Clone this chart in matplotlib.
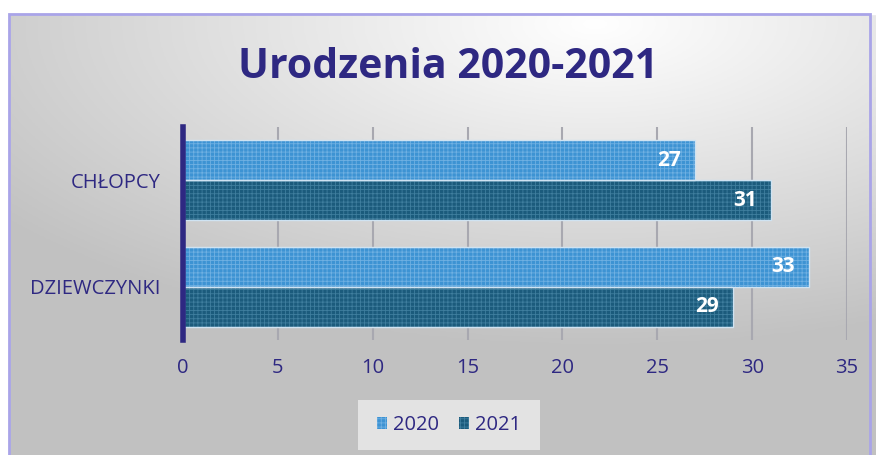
import numpy as np
import matplotlib.pyplot as plt
from matplotlib.patches import Rectangle, Patch

categories = ["DZIEWCZYNKI", "CHŁOPCY"]
years = ["2020", "2021"]
values_2020 = [33, 27]
values_2021 = [29, 31]
xticks = [0, 5, 10, 15, 20, 25, 30, 35]

navy = "#2e2882"
c2020 = "#3d93d3"
c2021 = "#1b5b7c"

plt.rcParams['font.family'] = ['Open Sans', 'DejaVu Sans']
plt.rcParams['hatch.linewidth'] = 0.6

W, H = 876, 455
fig = plt.figure(figsize=(W / 100, H / 100), dpi=100)

# background gradient
bg = fig.add_axes([0, 0, 1, 1], zorder=-2)
xx, yy = np.meshgrid(np.linspace(0, 1, 300), np.linspace(0, 1, 160))
d = np.sqrt(((xx - 0.68) * 1.0) ** 2 + ((yy - 0.95) * 1.2) ** 2)
g = 1.0 - 0.24 * np.clip(d / 0.85, 0, 1)
img = np.dstack([g, g, g])
bg.imshow(img, extent=[0, 1, 0, 1], origin="lower", aspect="auto")
bg.set_xlim(0, 1)
bg.set_ylim(0, 1)
bg.axis("off")
# white margin outside the border
bg.add_patch(Rectangle((0, 1 - 14 / H), 1, 1, color="white", zorder=3))
bg.add_patch(Rectangle((0, 0), 9 / W, 1, color="white", zorder=3))
bg.add_patch(Rectangle((9 / W, -0.05), 861 / W, 1 - 14 / H + 0.05, fill=False,
                       edgecolor="#a9a4e8", linewidth=2, zorder=4))
# legend box
bg.add_patch(Rectangle((358 / W, 1 - 450 / H), 182 / W, 50 / H,
                       facecolor="#e3e3e3", edgecolor="none", zorder=1))

ax = fig.add_axes([183 / W, 1 - 340 / H, 664 / W, 213 / H])
ax.patch.set_alpha(0)

y = np.arange(len(categories))
h = 0.375
b1 = ax.barh(y + h / 2, values_2020, height=h, color=c2020, edgecolor="#6fb0e2",
             hatch="++++", linewidth=0.0, zorder=3)
b2 = ax.barh(y - h / 2, values_2021, height=h, color=c2021, edgecolor="#3f7e9e",
             hatch="++++", linewidth=0.0, zorder=3)
for bars in (b1, b2):
    for r in bars:
        ax.add_patch(Rectangle((r.get_x(), r.get_y()), r.get_width(), r.get_height(),
                               fill=False, edgecolor="#cfe3f2", linewidth=1.0, zorder=4))
        ax.annotate(f"{r.get_width():g}", (r.get_width(), r.get_y() + r.get_height() / 2),
                    xytext=(-10, 0), textcoords="offset points", ha="right", va="center",
                    color="white", fontsize=15, fontweight="bold", zorder=5)

ax.set_xlim(0, 35)
ax.set_ylim(-0.5, 1.5)
ax.set_xticks(xticks)
ax.set_yticks(y)
ax.set_yticklabels(categories)
ax.tick_params(axis="both", length=0, colors=navy, labelsize=14.5)
ax.tick_params(axis="x", pad=13)
ax.tick_params(axis="y", pad=16)
ax.grid(axis="x", color="#a8a8b0", linewidth=1.5, zorder=0)
for s in ("top", "right", "bottom"):
    ax.spines[s].set_visible(False)
ax.spines["left"].set_color(navy)
ax.spines["left"].set_linewidth(4)
ax.spines["left"].set_zorder(6)

fig.text(448 / W, 1 - 67 / H, "Urodzenia 2020-2021", ha="center", va="center",
         fontsize=29.5, fontweight="bold", color=navy)

handles = [Patch(facecolor=c2020, edgecolor="#6fb0e2", hatch="++++", linewidth=0),
           Patch(facecolor=c2021, edgecolor="#3f7e9e", hatch="++++", linewidth=0)]
fig.legend(handles, years, loc="center", bbox_to_anchor=(449 / W, 1 - 425 / H),
           ncol=2, frameon=False, fontsize=14.5, labelcolor=navy,
           handlelength=0.5, handleheight=0.5, handletextpad=0.3, columnspacing=1.0)

fig.savefig("out.png", dpi=100)
